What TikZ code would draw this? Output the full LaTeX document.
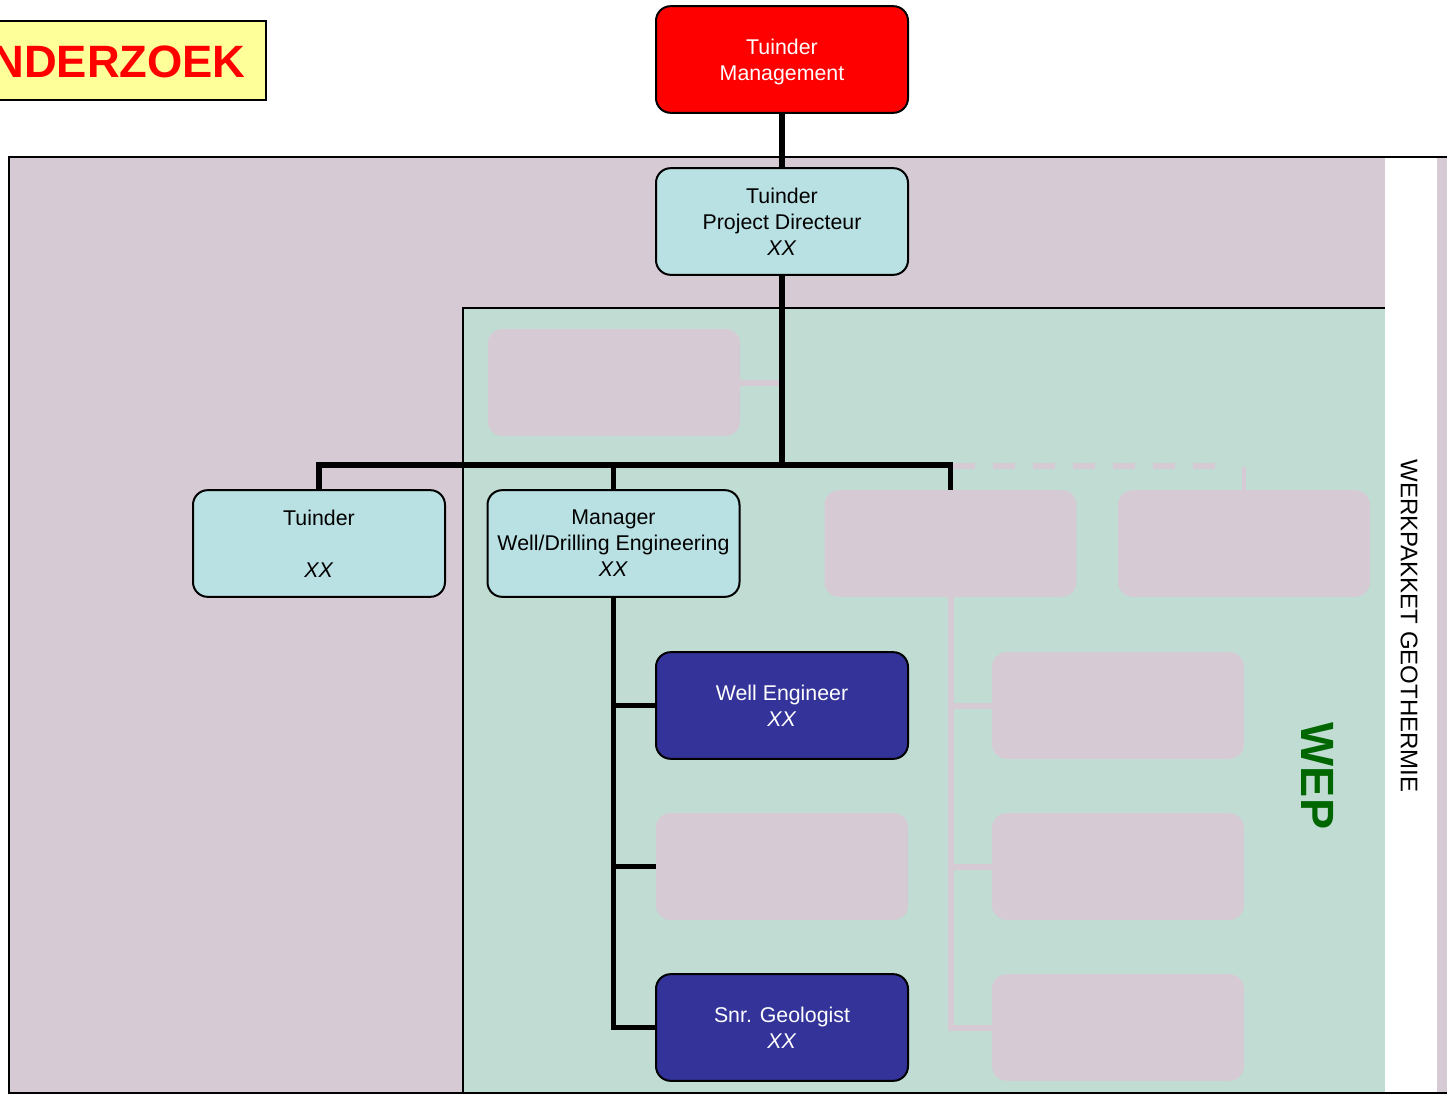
\documentclass[tikz,border=0pt]{standalone}
\usepackage{fontspec}
\setmainfont{Liberation Sans}
\definecolor{mauve}{HTML}{D6CAD5}
\definecolor{wepbg}{HTML}{C1DDD3}
\definecolor{lblue}{HTML}{B9E0E3}
\definecolor{navy}{HTML}{333399}
\definecolor{lyellow}{HTML}{FFFF99}
\definecolor{wepgreen}{HTML}{006600}
\begin{document}
\begin{tikzpicture}[x=0.75pt,y=-0.75pt,
  box/.style={rounded corners=11pt, draw=black, line width=1.5pt, minimum width=189pt, minimum height=80pt, inner sep=0pt, align=center, font=\fontsize{16}{19.5}\selectfont},
  txt/.style={inner sep=0pt, align=center, font=\fontsize{16}{19.5}\selectfont},
  ghostbox/.style={rounded corners=11pt, fill=mauve, minimum width=189pt, minimum height=80pt, inner sep=0pt},
  conn/.style={line width=4pt, draw=black},
  ghostline/.style={line width=4.5pt, draw=mauve}]
\useasboundingbox (0,0) rectangle (1447,1095);
\clip (0,0) rectangle (1447,1095);
% background areas
\fill[mauve] (9,157) rectangle (1460,1093);
\fill[wepbg] (463,308) rectangle (1385,1093);
\draw[line width=1.3pt] (463,1093) |- (1385,308);
\fill[white] (1385,158.5) rectangle (1437,1095);
\draw[line width=1.5pt] (1460,157) -| (9,1093) -- (1460,1093);
% title box
\node[draw=black, line width=1.5pt, fill=lyellow, minimum width=300pt, minimum height=59pt, anchor=east] (title) at (267,60.5) {};
\node[anchor=base east, inner sep=0pt, text=red, font=\bfseries\fontsize{34}{34}\selectfont] (titletext) at (246,78) {ONDERZOEK};
% nodes
\node[box, fill=red] (mgmt) at (782,59.5) {};
\node[txt, text=white] (mgmttext) at ([yshift=-2.2pt]mgmt.center) {Tuinder\\Management};
\node[box, fill=lblue] (pd) at (782,221.5) {Tuinder\\Project Directeur\\\textit{XX}};
\node[ghostbox] (g1) at (614,382.5) {};
\node[box, fill=lblue] (tu) at (319,543.5) {Tuinder\\ \\\textit{XX}};
\node[box, fill=lblue] (mgr) at (613.5,543.5) {Manager\\Well/Drilling Engineering\\\textit{XX}};
\node[ghostbox] (g2) at (950.5,543.5) {};
\node[ghostbox] (g3) at (1244,543.5) {};
\node[box, fill=navy, text=white] (we) at (782,705.5) {Well Engineer\\\textit{XX}};
\node[ghostbox] (g4) at (782,866.5) {};
\node[box, fill=navy, text=white] (sg) at (782,1027.5) {Snr. Geologist\\\textit{XX}};
\node[ghostbox] (g5) at (1118,705.5) {};
\node[ghostbox] (g6) at (1118,866.5) {};
\node[ghostbox] (g7) at (1118,1027.5) {};
\coordinate (bus) at (782,465);
\coordinate (dashend) at (1232,465.5);
% ghost connectors
\draw[ghostline] (g1.east) -- (g1.east -| pd.south);
\draw[ghostline, dash pattern=on 16pt off 14pt] ([xshift=2pt]g2.north |- dashend) -- (dashend);
\draw[ghostline, line width=3pt] ([yshift=-1pt]g3.north |- dashend) -- ([yshift=-1pt]g3.north);
\draw[ghostline] (g2.south) |- (g7.west);
\draw[ghostline] (g2.south |- g5.west) -- (g5.west);
\draw[ghostline] (g2.south |- g6.west) -- (g6.west);
% black connectors
\draw[conn] (mgmt.south) -- (pd.north);
\draw[conn] (pd.south) -- (bus);
\draw[conn, line join=miter] (tu.north) |- (bus) -| (g2.north);
\draw[conn] (mgr.north) -- (mgr.north |- bus);
\draw[conn, line join=miter] (mgr.south) |- (sg.west);
\draw[conn] (mgr.south |- we.west) -- (we.west);
\draw[conn] (mgr.south |- g4.west) -- (g4.west);
% redraw ghost boxes over line ends
\node[ghostbox] at (g1) {};
\node[ghostbox] at (g4) {};
% side labels
\node[rotate=-90, inner sep=0pt, text=wepgreen, font=\bfseries\fontsize{35}{35}\selectfont] (wep) at (1318,776) {WEP};
\node[rotate=-90, inner sep=0pt, font=\fontsize{18}{18}\selectfont] (wk) at (1409,626) {WERKPAKKET GEOTHERMIE};
\end{tikzpicture}
\end{document}
